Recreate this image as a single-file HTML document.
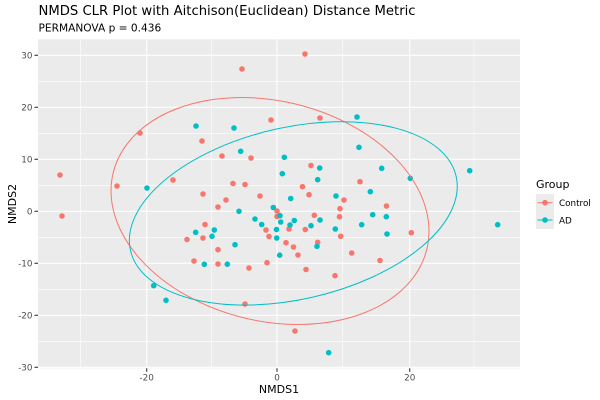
<!DOCTYPE html>
<html><head><meta charset="utf-8"><style>
body{margin:0;background:#fff;}
svg{display:block;font-family:"DejaVu Sans","Liberation Sans",sans-serif;}
</style></head><body>
<svg width="600" height="400" viewBox="0 0 600 400" xmlns="http://www.w3.org/2000/svg">
<rect x="0" y="0" width="600" height="400" fill="#fff"/>
<text x="38.5" y="15" font-size="13.2" fill="#000">NMDS CLR Plot with Aitchison(Euclidean) Distance Metric</text>
<text x="38.5" y="31.5" font-size="10.6" fill="#000">PERMANOVA p = 0.436</text>
<rect x="38" y="39.3" width="482" height="329" fill="#EBEBEB"/>
<g stroke="#fff" stroke-width="0.55">
<line x1="38" x2="520" y1="81.3" y2="81.3"/><line x1="38" x2="520" y1="133.3" y2="133.3"/><line x1="38" x2="520" y1="185.3" y2="185.3"/><line x1="38" x2="520" y1="237.3" y2="237.3"/><line x1="38" x2="520" y1="289.3" y2="289.3"/><line x1="38" x2="520" y1="341.3" y2="341.3"/>
<line y1="39.3" y2="368.3" x1="80.3" x2="80.3"/><line y1="39.3" y2="368.3" x1="211.3" x2="211.3"/><line y1="39.3" y2="368.3" x1="342.7" x2="342.7"/><line y1="39.3" y2="368.3" x1="474" x2="474"/>
</g>
<g stroke="#fff" stroke-width="1.1">
<line x1="38" x2="520" y1="55.3" y2="55.3"/><line x1="38" x2="520" y1="107.3" y2="107.3"/><line x1="38" x2="520" y1="159.3" y2="159.3"/><line x1="38" x2="520" y1="211.3" y2="211.3"/><line x1="38" x2="520" y1="263.3" y2="263.3"/><line x1="38" x2="520" y1="315.3" y2="315.3"/><line x1="38" x2="520" y1="367.3" y2="367.3"/>
<line y1="39.3" y2="368.3" x1="146.7" x2="146.7"/><line y1="39.3" y2="368.3" x1="277" x2="277"/><line y1="39.3" y2="368.3" x1="409.7" x2="409.7"/>
</g>
<g stroke="#333" stroke-width="1.1">
<line x1="34.5" x2="38" y1="55.3" y2="55.3"/><line x1="34.5" x2="38" y1="107.3" y2="107.3"/><line x1="34.5" x2="38" y1="159.3" y2="159.3"/><line x1="34.5" x2="38" y1="211.3" y2="211.3"/><line x1="34.5" x2="38" y1="263.3" y2="263.3"/><line x1="34.5" x2="38" y1="315.3" y2="315.3"/><line x1="34.5" x2="38" y1="367.3" y2="367.3"/>
<line y1="368.3" y2="371.8" x1="146.7" x2="146.7"/><line y1="368.3" y2="371.8" x1="277" x2="277"/><line y1="368.3" y2="371.8" x1="409.7" x2="409.7"/>
</g>
<g font-size="8.8" fill="#4D4D4D" text-anchor="end">
<text x="32.5" y="58.5">30</text><text x="32.5" y="110.5">20</text><text x="32.5" y="162.5">10</text><text x="32.5" y="214.5">0</text><text x="32.5" y="266.5">-10</text><text x="32.5" y="318.5">-20</text><text x="32.5" y="370.5">-30</text>
</g>
<g font-size="8.8" fill="#4D4D4D" text-anchor="middle">
<text x="146.7" y="380.5">-20</text><text x="277" y="380.5">0</text><text x="409.7" y="380.5">20</text>
</g>
<text x="279" y="393" font-size="11" text-anchor="middle" fill="#000">NMDS1</text>
<text transform="translate(16,204) rotate(-90)" font-size="11" text-anchor="middle" fill="#000">NMDS2</text>
<g fill="#F8766D">
<circle cx="242" cy="69" r="2.8"/><circle cx="305" cy="54" r="2.8"/><circle cx="271" cy="120" r="2.8"/><circle cx="320" cy="118" r="2.8"/><circle cx="140" cy="133" r="2.8"/><circle cx="202" cy="141" r="2.8"/><circle cx="222" cy="156" r="2.8"/><circle cx="251" cy="158" r="2.8"/><circle cx="60" cy="175" r="2.8"/><circle cx="117" cy="186" r="2.8"/><circle cx="173" cy="180" r="2.8"/><circle cx="233" cy="183.5" r="2.8"/><circle cx="245" cy="184.5" r="2.8"/><circle cx="203" cy="194" r="2.8"/><circle cx="260" cy="196" r="2.8"/><circle cx="226" cy="200" r="2.8"/><circle cx="218" cy="207" r="2.8"/><circle cx="62" cy="216" r="2.8"/><circle cx="277" cy="211" r="2.8"/><circle cx="277" cy="216.5" r="2.8"/><circle cx="205" cy="224.5" r="2.8"/><circle cx="266" cy="230" r="2.8"/><circle cx="269" cy="236.5" r="2.8"/><circle cx="289" cy="229" r="2.8"/><circle cx="187" cy="239.5" r="2.8"/><circle cx="203" cy="238" r="2.8"/><circle cx="286" cy="242.7" r="2.8"/><circle cx="293.5" cy="247" r="2.8"/><circle cx="218" cy="249.7" r="2.8"/><circle cx="298" cy="255" r="2.8"/><circle cx="194" cy="261" r="2.8"/><circle cx="218" cy="264" r="2.8"/><circle cx="267" cy="262.7" r="2.8"/><circle cx="249" cy="268" r="2.8"/><circle cx="245" cy="304" r="2.8"/><circle cx="295" cy="331" r="2.8"/><circle cx="311" cy="165.5" r="2.8"/><circle cx="302.5" cy="186.7" r="2.8"/><circle cx="309" cy="194.7" r="2.8"/><circle cx="360" cy="181.7" r="2.8"/><circle cx="344" cy="200" r="2.8"/><circle cx="340" cy="208.7" r="2.8"/><circle cx="386.5" cy="206" r="2.8"/><circle cx="314.3" cy="215.3" r="2.8"/><circle cx="339.5" cy="216.7" r="2.8"/><circle cx="305.3" cy="229.5" r="2.8"/><circle cx="340.7" cy="236.3" r="2.8"/><circle cx="411.3" cy="232.7" r="2.8"/><circle cx="317.7" cy="242.3" r="2.8"/><circle cx="351.7" cy="253" r="2.8"/><circle cx="380" cy="260.5" r="2.8"/><circle cx="306" cy="269.5" r="2.8"/><circle cx="335" cy="275.7" r="2.8"/>
</g>
<g fill="#00BFC4">
<circle cx="196" cy="126" r="2.8"/><circle cx="234" cy="128" r="2.8"/><circle cx="240.7" cy="151.3" r="2.8"/><circle cx="284.3" cy="157.3" r="2.8"/><circle cx="282.3" cy="173.7" r="2.8"/><circle cx="147" cy="188" r="2.8"/><circle cx="290.7" cy="198.5" r="2.8"/><circle cx="273.3" cy="207.5" r="2.8"/><circle cx="239" cy="211.3" r="2.8"/><circle cx="280" cy="215.7" r="2.8"/><circle cx="280.7" cy="222" r="2.8"/><circle cx="294.3" cy="220.5" r="2.8"/><circle cx="290" cy="225" r="2.8"/><circle cx="255" cy="219" r="2.8"/><circle cx="261.7" cy="224.5" r="2.8"/><circle cx="195.7" cy="232.3" r="2.8"/><circle cx="214.3" cy="230" r="2.8"/><circle cx="212" cy="236.3" r="2.8"/><circle cx="276.5" cy="229.5" r="2.8"/><circle cx="276.7" cy="238" r="2.8"/><circle cx="235" cy="244.7" r="2.8"/><circle cx="279.7" cy="255.2" r="2.8"/><circle cx="204.3" cy="264.3" r="2.8"/><circle cx="227.3" cy="264.2" r="2.8"/><circle cx="153.7" cy="285.7" r="2.8"/><circle cx="166" cy="300.3" r="2.8"/><circle cx="357" cy="117" r="2.8"/><circle cx="359" cy="147.3" r="2.8"/><circle cx="319.7" cy="168" r="2.8"/><circle cx="381.7" cy="168.3" r="2.8"/><circle cx="469.7" cy="170.7" r="2.8"/><circle cx="410.3" cy="178.3" r="2.8"/><circle cx="317.7" cy="179.7" r="2.8"/><circle cx="336" cy="196" r="2.8"/><circle cx="370.3" cy="191.7" r="2.8"/><circle cx="372.7" cy="214.7" r="2.8"/><circle cx="386.3" cy="216.7" r="2.8"/><circle cx="320" cy="220" r="2.8"/><circle cx="311" cy="225.7" r="2.8"/><circle cx="361.7" cy="224.7" r="2.8"/><circle cx="335.3" cy="229" r="2.8"/><circle cx="497.7" cy="224.7" r="2.8"/><circle cx="387" cy="234" r="2.8"/><circle cx="317" cy="246.3" r="2.8"/><circle cx="328.7" cy="352.7" r="2.8"/>
</g>
<ellipse cx="270" cy="211" rx="161.4" ry="110" transform="rotate(13.65 270 211)" fill="none" stroke="#F8766D" stroke-width="1"/>
<ellipse cx="293.3" cy="213.4" rx="167" ry="86" transform="rotate(-12.8 293.3 213.4)" fill="none" stroke="#00BFC4" stroke-width="1"/>
<text x="536" y="188" font-size="11" fill="#000">Group</text>
<rect x="536" y="194" width="18" height="35" fill="#EBEBEB"/>
<line x1="537.5" x2="552.5" y1="202.7" y2="202.7" stroke="#F8766D" stroke-width="1"/>
<circle cx="545" cy="202.7" r="2.8" fill="#F8766D"/>
<line x1="537.5" x2="552.5" y1="220" y2="220" stroke="#00BFC4" stroke-width="1"/>
<circle cx="545" cy="220" r="2.8" fill="#00BFC4"/>
<text x="559" y="206" font-size="8.8" fill="#000">Control</text>
<text x="559" y="223.3" font-size="8.8" fill="#000">AD</text>
</svg>
</body></html>
